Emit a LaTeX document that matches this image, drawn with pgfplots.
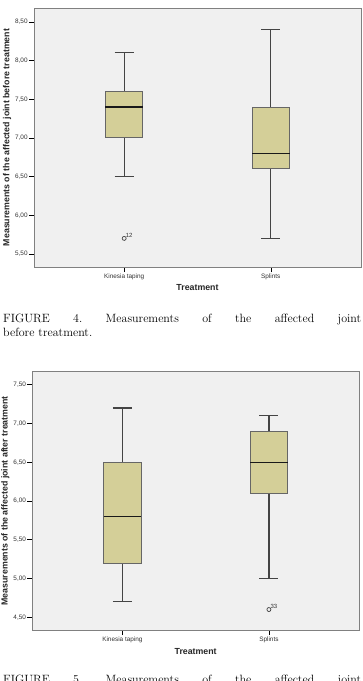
\documentclass[border=0pt]{standalone}
\usepackage{fontspec}
\usepackage{pgfplots}
\pgfplotsset{compat=1.18}
\newfontfamily\chartfont{Liberation Sans}

\definecolor{panelbg}{HTML}{F0F0F0}
\definecolor{boxfill}{HTML}{D4CF98}
\definecolor{framecol}{HTML}{808080}
\definecolor{whiskcol}{HTML}{444444}

\pgfplotsset{
  spssbox/.style={
    scale only axis,
    width=327pt, height=259pt,
    xmin=0.385, xmax=2.615,
    xtick={1,2}, xticklabels={Kinesia taping, Splints},
    xtick pos=lower, ytick pos=left,
    tick align=outside, major tick length=5pt,
    every tick/.style={black, line width=0.6pt},
    axis line style={framecol, line width=0.9pt},
    axis background/.style={fill=panelbg},
    /pgf/number format/assume math mode=true,
    /pgf/number format/.cd, fixed, fixed zerofill, precision=2, use comma,
    /pgfplots/.cd,
    ticklabel style={font=\chartfont\fontsize{6.4}{7}\selectfont, text=black!80},
    yticklabel style={inner sep=1.2pt},
    xticklabel style={inner sep=1pt, yshift=-1pt},
    every axis y label/.style={at={(axis description cs:-0.0826,0.5)}, rotate=90, anchor=center,
      font=\chartfont\bfseries\fontsize{8.8}{10}\selectfont, text=black!85},
    every axis x label/.style={at={(axis description cs:0.5,-0.081)}, anchor=center,
      font=\chartfont\bfseries\fontsize{8.8}{10}\selectfont, text=black!85},
    xlabel={Treatment},
  },
  boxbody/.style={draw=black!60, fill=boxfill, line width=0.9pt},
  whisker/.style={draw=whiskcol, line width=1.3pt},
  medianline/.style={draw=black!90, line width=1.5pt},
  outlier/.style={
    only marks, mark=o, mark size=2pt,
    mark options={draw=black!75, line width=0.7pt},
    point meta=explicit symbolic,
    nodes near coords,
    nodes near coords style={anchor=south west, inner sep=0.5pt, xshift=0.8pt,
      font=\chartfont\fontsize{6}{7}\selectfont, text=black!80},
  },
}

\begin{document}
\begin{tikzpicture}
\path[use as bounding box] (0pt,0pt) rectangle (363pt,-681pt);
\fill[white] (0pt,0pt) rectangle (363pt,-681pt);

% Before treatment
\begin{axis}[spssbox, at={(34pt,-267pt)}, anchor=south west,
  ymin=5.33, ymax=8.68, ytick={5.5,6,...,8.5},
  ylabel={Measurements of the affected joint before treatment}]
% Kinesia taping: whiskers 6.5 / 8.1, quartiles 7.0 / 7.6, median 7.4
\addplot[whisker] coordinates {(1,6.5) (1,8.1)};
\addplot[whisker] coordinates {(0.935,8.1) (1.065,8.1)};
\addplot[whisker] coordinates {(0.935,6.5) (1.065,6.5)};
\addplot[boxbody] coordinates {(0.8725,7.0) (1.1275,7.0) (1.1275,7.6) (0.8725,7.6)} -- cycle;
\addplot[medianline] coordinates {(0.8725,7.4) (1.1275,7.4)};
% Splints: whiskers 5.7 / 8.4, quartiles 6.6 / 7.4, median 6.8
\addplot[whisker] coordinates {(2,5.7) (2,8.4)};
\addplot[whisker] coordinates {(1.935,8.4) (2.065,8.4)};
\addplot[whisker] coordinates {(1.935,5.7) (2.065,5.7)};
\addplot[boxbody] coordinates {(1.8725,6.6) (2.1275,6.6) (2.1275,7.4) (1.8725,7.4)} -- cycle;
\addplot[medianline] coordinates {(1.8725,6.8) (2.1275,6.8)};
\addplot[outlier] coordinates {(1,5.7) [12]};
\end{axis}

\node[anchor=base west, inner sep=0pt, font=\fontsize{12}{14}\selectfont] at (3pt,-322.7pt)
  {\hbox to 358pt{FIGURE\hfill 4.\hfill Measurements\hfill of\hfill the\hfill affected\hfill joint}};
\node[anchor=base west, inner sep=0pt, font=\fontsize{12}{14}\selectfont] at (3pt,-336.7pt)
  {before treatment.};

% After treatment
\begin{axis}[spssbox, at={(32.3pt,-630pt)}, anchor=south west,
  width=326.7pt, height=258.3pt,
  ymin=4.336, ymax=7.668, ytick={4.5,5,...,7.5},
  ylabel={Measurements of the affected joint after treatment},
  every axis x label/.append style={at={(axis description cs:0.5,-0.085)}}]
% Kinesia taping: whiskers 4.7 / 7.2, quartiles 5.2 / 6.5, median 5.8
\addplot[whisker] coordinates {(1,4.7) (1,7.2)};
\addplot[whisker] coordinates {(0.935,7.2) (1.065,7.2)};
\addplot[whisker] coordinates {(0.935,4.7) (1.065,4.7)};
\addplot[boxbody] coordinates {(0.8725,5.2) (1.1275,5.2) (1.1275,6.5) (0.8725,6.5)} -- cycle;
\addplot[medianline] coordinates {(0.8725,5.8) (1.1275,5.8)};
% Splints: whiskers 5.0 / 7.1, quartiles 6.1 / 6.9, median 6.5
\addplot[whisker] coordinates {(2,5.0) (2,7.1)};
\addplot[whisker] coordinates {(1.935,7.1) (2.065,7.1)};
\addplot[whisker] coordinates {(1.935,5.0) (2.065,5.0)};
\addplot[boxbody] coordinates {(1.8725,6.1) (2.1275,6.1) (2.1275,6.9) (1.8725,6.9)} -- cycle;
\addplot[medianline] coordinates {(1.8725,6.5) (2.1275,6.5)};
\addplot[outlier] coordinates {(2,4.6) [33]};
\end{axis}

\node[anchor=base west, inner sep=0pt, font=\fontsize{12}{14}\selectfont] at (3pt,-683.5pt)
  {\hbox to 358pt{FIGURE\hfill 5.\hfill Measurements\hfill of\hfill the\hfill affected\hfill joint}};
\end{tikzpicture}
\end{document}
